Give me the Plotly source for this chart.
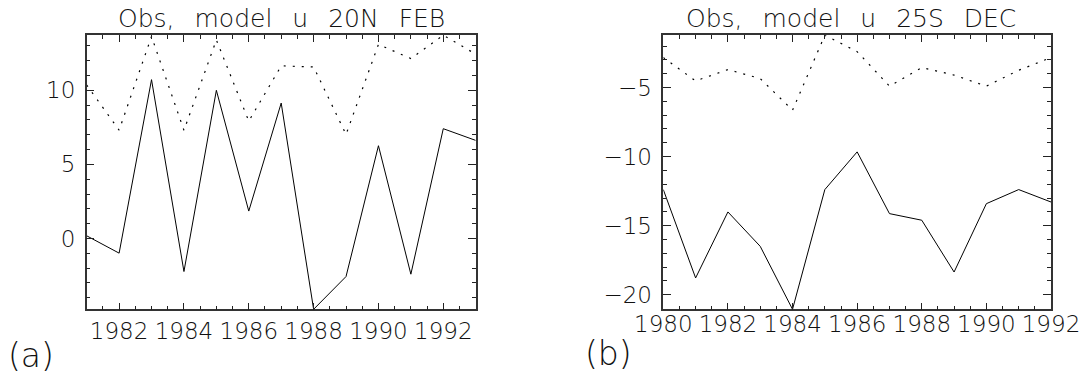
import plotly.graph_objects as go

# Panel (a): zonal wind at 20N, February
years_a = [1981, 1982, 1983, 1984, 1985, 1986, 1987, 1988, 1989, 1990, 1991, 1992, 1993]
obs_a = [0.18, -0.99, 10.72, -2.23, 10.0, 1.85, 9.14, -4.78, -2.57, 6.26, -2.41, 7.41, 6.62]
model_a = [10.36, 7.31, 13.63, 7.3, 13.4, 7.92, 11.65, 11.58, 7.02, 13.1, 12.14, 13.72, 12.44]
xticks_a = [1982, 1984, 1986, 1988, 1990, 1992]
yticks_a = [0, 5, 10]

# Panel (b): zonal wind at 25S, December
years_b = [1980, 1981, 1982, 1983, 1984, 1985, 1986, 1987, 1988, 1989, 1990, 1991, 1992]
obs_b = [-12.39, -18.79, -14.01, -16.5, -21.06, -12.39, -9.66, -14.13, -14.61, -18.36, -13.41, -12.39, -13.29]
model_b = [-2.83, -4.52, -3.7, -4.35, -6.64, -1.21, -2.4, -4.9, -3.55, -4.1, -4.9, -3.75, -2.83]
xticks_b = [1980, 1982, 1984, 1986, 1988, 1990, 1992]
yticks_b = [-20, -15, -10, -5]

titles = ["Obs, model u 20N FEB", "Obs, model u 25S DEC"]
panel_tags = ["(a)", "(b)"]

W, H = 1084, 376
FONT = "DejaVu Sans"
TXT = "#111111"

fig = go.Figure()

def add_panel(n, years, obs, model):
    xa = "x" if n == 1 else f"x{n}"
    ya = "y" if n == 1 else f"y{n}"
    fig.add_trace(go.Scatter(x=years, y=obs, mode="lines", xaxis=xa, yaxis=ya,
                             line=dict(color="black", width=1), showlegend=False))
    fig.add_trace(go.Scatter(x=years, y=model, mode="lines", xaxis=xa, yaxis=ya,
                             line=dict(color="black", width=1.2, dash="2px,7px"),
                             showlegend=False))

add_panel(1, years_a, obs_a, model_a)
add_panel(2, years_b, obs_b, model_b)

def px_x(p):
    return p / W

def px_y(p):
    return 1 - p / H

tickfont = dict(family=FONT, size=23, color=TXT, weight=200)

def xaxis(dom, years, ticks, standoff, anchor):
    return dict(domain=dom, range=[min(years), max(years)], tickmode="array",
                tickvals=ticks, ticktext=[str(t) for t in ticks],
                ticks="inside", ticklen=7, tickwidth=1, tickcolor="#222",
                minor=dict(dtick=0.5, tick0=min(years), ticks="inside", ticklen=4,
                           tickwidth=1, tickcolor="#222"),
                showline=True, linecolor="#333", linewidth=1.5, mirror="allticks",
                showgrid=False, zeroline=False, tickfont=tickfont, automargin=False,
                ticklabelstandoff=standoff, anchor=anchor)

def yaxis(dom, vals, ticks, standoff, anchor):
    return dict(domain=dom, range=[min(vals), max(vals)], tickmode="array",
                tickvals=ticks, ticktext=[str(t).replace("-", "\u2212") for t in ticks],
                ticks="inside", ticklen=8, tickwidth=1, tickcolor="#222",
                minor=dict(dtick=1, tick0=0, ticks="inside", ticklen=4,
                           tickwidth=1, tickcolor="#222"),
                showline=True, linecolor="#333", linewidth=1.5, mirror="allticks",
                showgrid=False, zeroline=False, tickfont=tickfont, automargin=False,
                ticklabelstandoff=standoff, anchor=anchor)

ydom = [px_y(309.3), px_y(35.2)]
fig.update_layout(
    template="none",
    width=W, height=H,
    margin=dict(l=0, r=0, t=0, b=0, pad=0),
    paper_bgcolor="white", plot_bgcolor="white",
    xaxis=xaxis([px_x(86.7), px_x(475.7)], years_a, xticks_a, 0, "y"),
    yaxis=yaxis(ydom, obs_a + model_a, yticks_a, 5, "x"),
    xaxis2=xaxis([px_x(663.3), px_x(1051)], years_b, xticks_b, -7, "y2"),
    yaxis2=yaxis(ydom, obs_b + model_b, yticks_b, 5, "x2"),
)

# Panel titles and tags (wide word gaps in the titles)
gap = "\u2002\u2009\u200a"
ann = []
for text, cx in zip(titles, [281.2, 851]):
    ann.append(dict(text=text.replace(" ", gap), x=px_x(cx), y=px_y(18.6),
                    xref="paper", yref="paper", xanchor="center", yanchor="middle",
                    showarrow=False,
                    font=dict(family=FONT, size=25, color=TXT, weight=200)))
for text, cx, cy in zip(panel_tags, [31, 608.5], [355, 353]):
    ann.append(dict(text=text, x=px_x(cx), y=px_y(cy), xref="paper", yref="paper",
                    xanchor="center", yanchor="middle", showarrow=False,
                    font=dict(family=FONT, size=33, color=TXT, weight=200)))
fig.update_layout(annotations=ann)

fig.write_html("out.html")
